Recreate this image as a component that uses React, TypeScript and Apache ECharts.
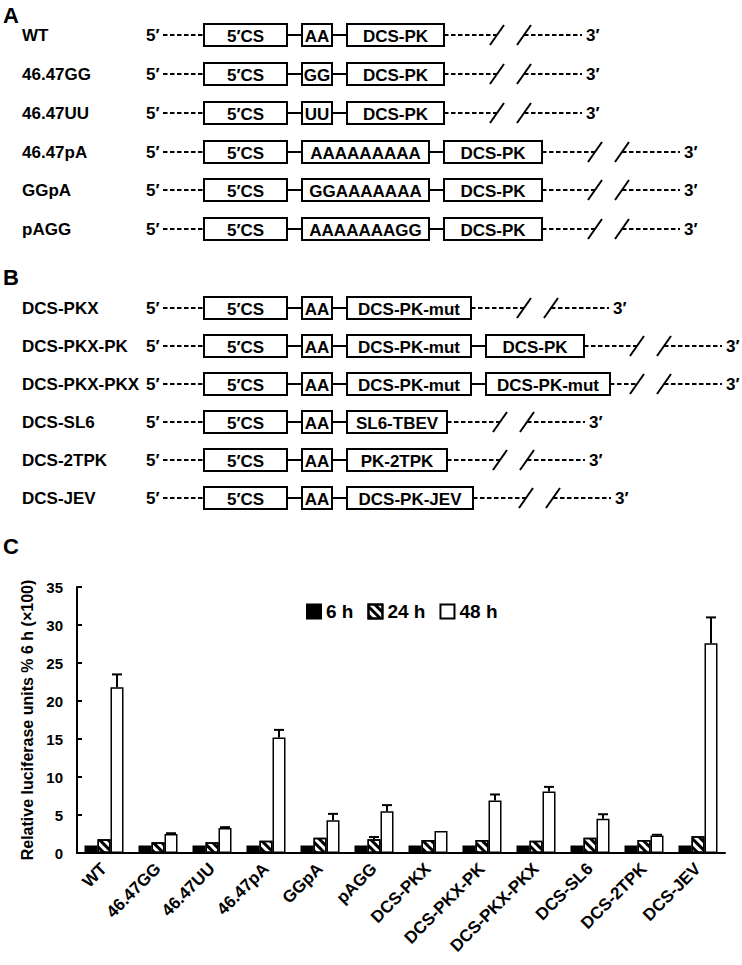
import React, { useEffect, useRef } from "react";
import * as echarts from "echarts";

// ---------- Panel C data ----------
const categories = [
  "WT", "46.47GG", "46.47UU", "46.47pA", "GGpA", "pAGG",
  "DCS-PKX", "DCS-PKX-PK", "DCS-PKX-PKX", "DCS-SL6", "DCS-2TPK", "DCS-JEV",
];
const seriesNames = ["6 h", "24 h", "48 h"];
const h6 = [1.0, 1.0, 1.0, 1.0, 1.0, 1.0, 1.0, 1.0, 1.0, 1.0, 1.0, 1.0];
const h24 = [1.8, 1.4, 1.4, 1.6, 2.0, 1.8, 1.7, 1.7, 1.6, 2.0, 1.7, 2.2];
const err24 = [0, 0, 0, 0, 0, 0.3, 0, 0, 0, 0, 0, 0];
const h48 = [21.8, 2.5, 3.3, 15.2, 4.3, 5.5, 2.9, 6.9, 8.1, 4.5, 2.3, 27.6];
const err48 = [1.7, 0.1, 0.1, 1.0, 0.85, 0.8, 0, 0.8, 0.6, 0.6, 0.1, 3.4];
const yTicks = { min: 0, max: 35, interval: 5 };
const yAxisName = "Relative luciferase units % 6 h (×100)";

// ---------- Panel A / B schematic data ----------
const rowsA = [
  { label: "WT", boxes: [["5′CS", 83], ["AA", 30], ["DCS-PK", 97]] },
  { label: "46.47GG", boxes: [["5′CS", 83], ["GG", 30], ["DCS-PK", 97]] },
  { label: "46.47UU", boxes: [["5′CS", 83], ["UU", 30], ["DCS-PK", 97]] },
  { label: "46.47pA", boxes: [["5′CS", 83], ["AAAAAAAAA", 127], ["DCS-PK", 98]] },
  { label: "GGpA", boxes: [["5′CS", 83], ["GGAAAAAAA", 127], ["DCS-PK", 98]] },
  { label: "pAGG", boxes: [["5′CS", 83], ["AAAAAAAGG", 127], ["DCS-PK", 98]] },
];
const rowsB = [
  { label: "DCS-PKX", boxes: [["5′CS", 83], ["AA", 30], ["DCS-PK-mut", 124]] },
  { label: "DCS-PKX-PK", boxes: [["5′CS", 83], ["AA", 30], ["DCS-PK-mut", 124], ["DCS-PK", 98]] },
  { label: "DCS-PKX-PKX", boxes: [["5′CS", 83], ["AA", 30], ["DCS-PK-mut", 124], ["DCS-PK-mut", 124]], tail: 27 },
  { label: "DCS-SL6", boxes: [["5′CS", 83], ["AA", 30], ["SL6-TBEV", 100]] },
  { label: "DCS-2TPK", boxes: [["5′CS", 83], ["AA", 30], ["PK-2TPK", 100]] },
  { label: "DCS-JEV", boxes: [["5′CS", 83], ["AA", 30], ["DCS-PK-JEV", 126]] },
];
const rowYA = [35, 74, 113, 152, 190, 229];
const rowYB = [308, 346, 384, 422, 460, 498];

const FONT = '"Liberation Sans", Arial, Helvetica, sans-serif';

function txt(x: number, y: number, text: string, size: number, align = "left") {
  return {
    type: "text",
    style: {
      x, y, text,
      font: `bold ${size}px ${FONT}`,
      fill: "#000",
      align, verticalAlign: "middle",
      textAlign: align, textVerticalAlign: "middle",
    },
    silent: true,
  };
}
function seg(x1: number, y1: number, x2: number, y2: number, dashed = false) {
  return {
    type: "line",
    shape: { x1, y1, x2, y2 },
    style: { stroke: "#000", lineWidth: 2, lineDash: dashed ? [4.5, 2.5] : null },
    silent: true,
  };
}

function buildRows(rows: any[], ys: number[]) {
  const els: any[] = [];
  rows.forEach((r, idx) => {
    const cy = ys[idx];
    els.push(txt(22, cy, r.label, 17));
    els.push(txt(146, cy, "5′", 17));
    els.push(seg(163, cy, 204, cy, true));
    let x = 204;
    const n = r.boxes.length;
    r.boxes.forEach((b: any, bi: number) => {
      const [t, w] = b;
      els.push({
        type: "rect",
        shape: { x, y: cy - 11, width: w, height: 22 },
        style: { fill: "#fff", stroke: "#000", lineWidth: 2 },
        silent: true,
      });
      els.push(txt(x + w / 2, cy + 1, t, 17, "center"));
      if (bi < n - 1) {
        els.push(seg(x + w, cy, x + w + 15, cy));
        x += w + 15;
      } else {
        x += w;
      }
    });
    const lastEnd = x;
    const s1 = lastEnd + (r.tail ?? 53);
    const s2 = s1 + 27;
    const e3 = s2 + 58;
    els.push(seg(lastEnd, cy, s1, cy, true));
    els.push(seg(s1 - 7, cy + 10, s1 + 7, cy - 10));
    els.push(seg(s2 - 7, cy + 10, s2 + 7, cy - 10));
    els.push(seg(s2, cy, e3, cy, true));
    els.push(txt(e3 + 4, cy, "3′", 17));
  });
  return els;
}

export default function App() {
  const ref = useRef<HTMLDivElement>(null);
  useEffect(() => {
    if (!ref.current) return;
    const chart = echarts.init(ref.current, undefined, { renderer: "svg" });

    const errData: any[] = [];
    categories.forEach((_, i) => {
      if (err24[i] > 0) errData.push([i, h24[i], err24[i], 0]);
      if (err48[i] > 0) errData.push([i, h48[i], err48[i], 1]);
    });

    const graphics = [
      txt(3, 15, "A", 22),
      txt(3, 277, "B", 22),
      txt(3, 546, "C", 22),
      ...buildRows(rowsA, rowYA),
      ...buildRows(rowsB, rowYB),
    ];

    const barBase = {
      type: "bar",
      barWidth: 13,
      barGap: "0%",
    };

    chart.setOption({
      animation: false,
      backgroundColor: "#fff",
      textStyle: { fontFamily: FONT },
      graphic: { elements: graphics },
      legend: {
        data: seriesNames,
        left: 301,
        top: 597,
        icon: "rect",
        itemWidth: 14,
        itemHeight: 14,
        itemGap: 14,
        textStyle: { fontFamily: FONT, fontWeight: "bold", fontSize: 19, color: "#000" },
      },
      grid: { left: 77, right: 17, top: 587, bottom: 112 },
      xAxis: {
        type: "category",
        data: categories,
        axisLine: { lineStyle: { color: "#000", width: 2 } },
        axisTick: { inside: true, length: 5, lineStyle: { color: "#000", width: 2 } },
        axisLabel: {
          rotate: 45,
          interval: 0,
          margin: 13,
          color: "#000",
          fontFamily: FONT,
          fontWeight: "bold",
          fontSize: 17,
        },
      },
      yAxis: {
        type: "value",
        min: yTicks.min,
        max: yTicks.max,
        interval: yTicks.interval,
        name: yAxisName,
        nameLocation: "middle",
        nameGap: 42,
        nameTextStyle: { fontFamily: FONT, fontWeight: "bold", fontSize: 16, color: "#000" },
        axisLine: { show: true, lineStyle: { color: "#000", width: 2 } },
        axisTick: { show: true, inside: true, length: 5, lineStyle: { color: "#000", width: 2 } },
        splitLine: { show: false },
        axisLabel: { color: "#000", fontFamily: FONT, fontWeight: "bold", fontSize: 15, margin: 14 },
      },
      series: [
        {
          ...barBase,
          name: seriesNames[0],
          data: h6,
          itemStyle: { color: "#000", borderColor: "#000", borderWidth: 1.5 },
        },
        {
          ...barBase,
          name: seriesNames[1],
          data: h24,
          itemStyle: {
            color: "#fff",
            borderColor: "#000",
            borderWidth: 1.5,
            decal: {
              symbol: "rect",
              symbolSize: 1,
              color: "#000",
              dashArrayX: [1, 0],
              dashArrayY: [2.2, 2.2],
              rotation: Math.PI / 4,
            },
          },
        },
        {
          ...barBase,
          name: seriesNames[2],
          data: h48,
          itemStyle: { color: "#fff", borderColor: "#000", borderWidth: 1.5 },
        },
        {
          type: "custom",
          name: "err",
          data: errData,
          encode: { x: 0, y: 1 },
          z: 5,
          renderItem: (_p: any, api: any) => {
            const i = api.value(0);
            const v = api.value(1);
            const e = api.value(2);
            const k = api.value(3);
            const base = api.coord([i, v]);
            const top = api.coord([i, v + e]);
            const x = base[0] + k * 13;
            return {
              type: "group",
              children: [
                { type: "line", shape: { x1: x, y1: base[1], x2: x, y2: top[1] }, style: { stroke: "#000", lineWidth: 2 } },
                { type: "line", shape: { x1: x - 5, y1: top[1], x2: x + 5, y2: top[1] }, style: { stroke: "#000", lineWidth: 2 } },
              ],
            };
          },
        },
      ],
    });
    return () => chart.dispose();
  }, []);
  return (
    <div
      ref={ref}
      style={{ position: "absolute", left: 0, top: 0, width: 742, height: 965, background: "#fff" }}
    />
  );
}
